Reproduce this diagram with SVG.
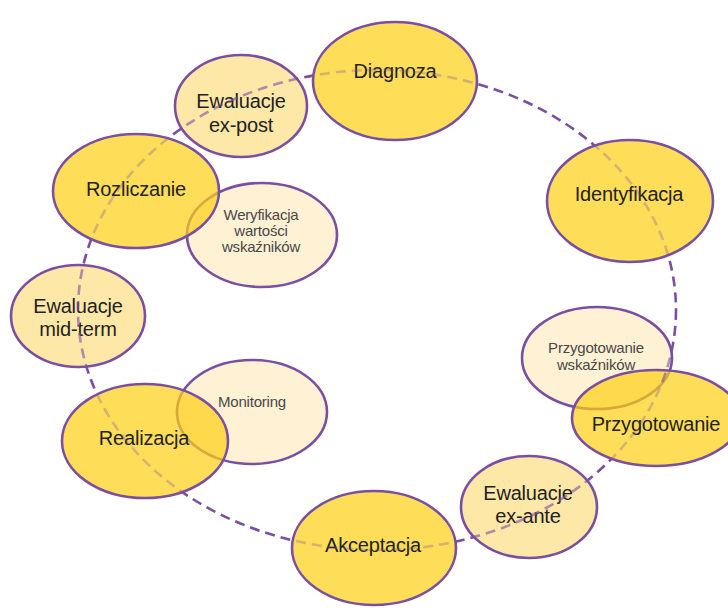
<svg xmlns="http://www.w3.org/2000/svg" width="728" height="610" viewBox="0 0 728 610">
  <style>
    .node { stroke: #7a4fa2; stroke-width: 2.6; }
    .main { fill: #fdcf12; fill-opacity: 0.7; }
    .mid { fill: #fee8a8; }
    .pale { fill: #fff1d4; }
    .t { font-family: "Liberation Sans", Arial, sans-serif; fill: #231f20; text-anchor: middle; }
    .big { font-size: 20px; letter-spacing: -0.2px; }
    .small { font-size: 15px; fill: #4a4748; letter-spacing: -0.2px; }
    .ring { fill: none; stroke: #7a4fa2; stroke-width: 2.6; stroke-dasharray: 10 6; }
  </style>
  <defs>
    <!-- the dashed cycle is dimmed where it runs across a filled node -->
    <mask id="ringFade" maskUnits="userSpaceOnUse" x="0" y="0" width="728" height="610">
      <rect x="0" y="0" width="728" height="610" fill="#fff"/>
      <g fill="#4d4d4d">
        <ellipse cx="395" cy="81" rx="82" ry="59"/>
        <ellipse cx="630" cy="201" rx="83" ry="61"/>
        <ellipse cx="656" cy="418" rx="84" ry="48"/>
        <ellipse cx="374" cy="548" rx="82" ry="57"/>
        <ellipse cx="145" cy="441" rx="83" ry="57"/>
        <ellipse cx="136" cy="191" rx="83" ry="57"/>
      </g>
      <g fill="#999">
        <ellipse cx="241" cy="106" rx="66" ry="51"/>
        <ellipse cx="78" cy="316" rx="67" ry="51"/>
        <ellipse cx="529" cy="507" rx="68" ry="51"/>
        <ellipse cx="597" cy="358" rx="75" ry="51"/>
      </g>
    </mask>
  </defs>

  <rect x="0" y="0" width="728" height="610" fill="#ffffff"/>

  <!-- secondary activities (drawn first, partly covered by stages) -->
  <g id="weryfikacja">
    <ellipse class="node pale" cx="262" cy="235" rx="75" ry="52"/>
    <text class="t small" x="261" y="220">Weryfikacja</text>
    <text class="t small" x="261" y="236">wartości</text>
    <text class="t small" x="261" y="252">wskaźników</text>
  </g>
  <g id="monitoring">
    <ellipse class="node pale" cx="252" cy="412" rx="75" ry="52"/>
    <text class="t small" x="252" y="407">Monitoring</text>
  </g>
  <g id="przygotowanie-wskaznikow">
    <ellipse class="node pale" cx="597" cy="358" rx="75" ry="51"/>
    <text class="t small" x="596" y="353">Przygotowanie</text>
    <text class="t small" x="596" y="370">wskaźników</text>
  </g>

  <!-- evaluations -->
  <g id="ewaluacje-ex-post">
    <ellipse class="node mid" cx="241" cy="106" rx="66" ry="51"/>
    <text class="t big" x="241" y="108">Ewaluacje</text>
    <text class="t big" x="241" y="132">ex-post</text>
  </g>
  <g id="ewaluacje-mid-term">
    <ellipse class="node mid" cx="78" cy="316" rx="67" ry="51"/>
    <text class="t big" x="78" y="313">Ewaluacje</text>
    <text class="t big" x="78" y="336">mid-term</text>
  </g>
  <g id="ewaluacje-ex-ante">
    <ellipse class="node mid" cx="529" cy="507" rx="68" ry="51"/>
    <text class="t big" x="528" y="500">Ewaluacje</text>
    <text class="t big" x="528" y="523">ex-ante</text>
  </g>

  <!-- project cycle stages -->
  <g id="diagnoza">
    <ellipse class="node main" cx="395" cy="81" rx="82" ry="59"/>
    <text class="t big" x="395" y="78">Diagnoza</text>
  </g>
  <g id="identyfikacja">
    <ellipse class="node main" cx="630" cy="201" rx="83" ry="61"/>
    <text class="t big" x="629" y="201">Identyfikacja</text>
  </g>
  <g id="przygotowanie">
    <ellipse class="node main" cx="656" cy="418" rx="84" ry="48"/>
    <text class="t big" x="656" y="431">Przygotowanie</text>
  </g>
  <g id="akceptacja">
    <ellipse class="node main" cx="374" cy="548" rx="82" ry="57"/>
    <text class="t big" x="373" y="552">Akceptacja</text>
  </g>
  <g id="realizacja">
    <ellipse class="node main" cx="145" cy="441" rx="83" ry="57"/>
    <text class="t big" x="144" y="445">Realizacja</text>
  </g>
  <g id="rozliczanie">
    <ellipse class="node main" cx="136" cy="191" rx="83" ry="57"/>
    <text class="t big" x="136" y="196">Rozliczanie</text>
  </g>

  <!-- connectors: dashed cycle through all stages -->
  <g id="connectors">
    <ellipse class="ring" cx="377" cy="310" rx="299" ry="240" mask="url(#ringFade)"/>
  </g>
</svg>
